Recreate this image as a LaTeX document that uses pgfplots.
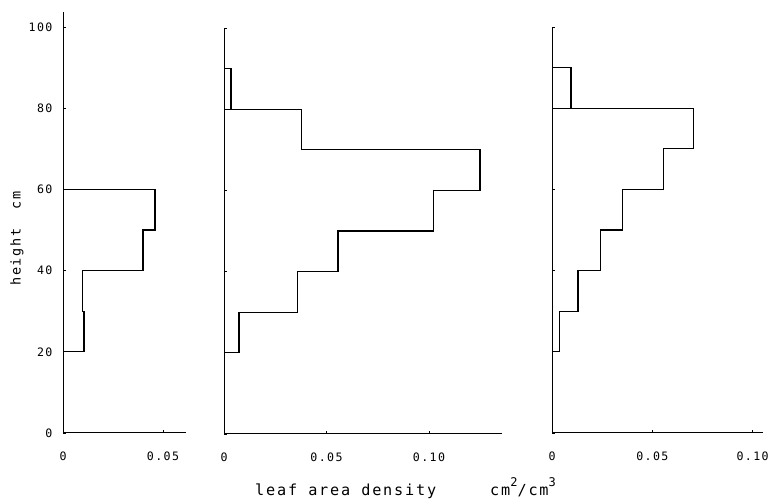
\documentclass[border=0pt]{standalone}
\usepackage{fontspec}
\setmainfont{DejaVu Sans Mono}[LetterSpace=12]
\usepackage{pgfplots}
\pgfplotsset{compat=1.18}
\pgfplotsset{
  panel/.style={
    scale only axis,
    axis x line=bottom, axis y line=left,
    axis line style={-, line width=1bp, black},
    tick align=inside, major tick length=3bp,
    tick style={line width=0.9bp, black},
    xmin=0, ymin=0,
    scaled x ticks=false, scaled y ticks=false,
    ytick={0,20,40,60,80,100},
    xticklabel style={yshift=-15bp, font=\fontsize{11.6bp}{13bp}\selectfont},
    yticklabel style={xshift=-7bp, font=\fontsize{11.6bp}{13bp}\selectfont},
    /pgf/number format/assume math mode=true,
    clip=false,
  },
  prof/.style={black, line width=1.3bp, mark=none},
}
\begin{document}
\begin{tikzpicture}
\path[use as bounding box] (0,0) rectangle (772bp,504bp);
% panel 1
\begin{axis}[panel, at={(63bp,71bp)}, anchor=south west,
  width=123bp, height=421bp, xmax=0.0615, ymax=103.7,
  xtick={0,0.05}, xticklabels={0,0.05},
  yticklabels={0,20,40,60,80,100}]
\addplot[prof] coordinates {(0,20) (0.0105,20) (0.0105,30) (0.0097,30) (0.0097,40) (0.040,40) (0.040,50) (0.046,50) (0.046,60) (0,60)};
\end{axis}
% panel 2
\begin{axis}[panel, at={(224bp,70bp)}, anchor=south west,
  width=278bp, height=406bp, xmax=0.1356, ymax=100,
  xtick={0,0.05,0.10}, xticklabels={0,0.05,0.10},
  yticklabels={}]
\addplot[prof] coordinates {(0,20) (0.0073,20) (0.0073,30) (0.0358,30) (0.0358,40) (0.0556,40) (0.0556,50) (0.1021,50) (0.1021,60) (0.1249,60) (0.1249,70) (0.0379,70) (0.0379,80) (0,80)};
\addplot[prof] coordinates {(0,80) (0.0034,80) (0.0034,90) (0,90)};
\end{axis}
% panel 3
\begin{axis}[panel, at={(552bp,71bp)}, anchor=south west,
  width=210.7bp, height=406bp, xmax=0.105, ymax=100,
  xtick={0,0.05,0.10}, xticklabels={0,0.05,0.10},
  yticklabels={}]
\addplot[prof] coordinates {(0,20) (0.0039,20) (0.0039,30) (0.013,30) (0.013,40) (0.0242,40) (0.0242,50) (0.035,50) (0.035,60) (0.0555,60) (0.0555,70) (0.0705,70) (0.0705,80) (0,80)};
\addplot[prof] coordinates {(0,90) (0.0094,90) (0.0094,80)};
\end{axis}
\node[anchor=base west, inner sep=0, font=\fontsize{15.2bp}{17bp}\selectfont] at (255bp,9bp) {leaf area density};
\node[anchor=base west, inner sep=0, font=\fontsize{15.2bp}{17bp}\selectfont] at (490bp,9bp) {cm\raisebox{0.55em}{\fontsize{12bp}{12bp}\selectfont 2}/cm\raisebox{0.55em}{\fontsize{12bp}{12bp}\selectfont 3}};
\node[rotate=90, inner sep=0, font=\fontsize{13.5bp}{15bp}\selectfont] at (17bp,265.5bp) {height\ \ cm};
\end{tikzpicture}
\end{document}
